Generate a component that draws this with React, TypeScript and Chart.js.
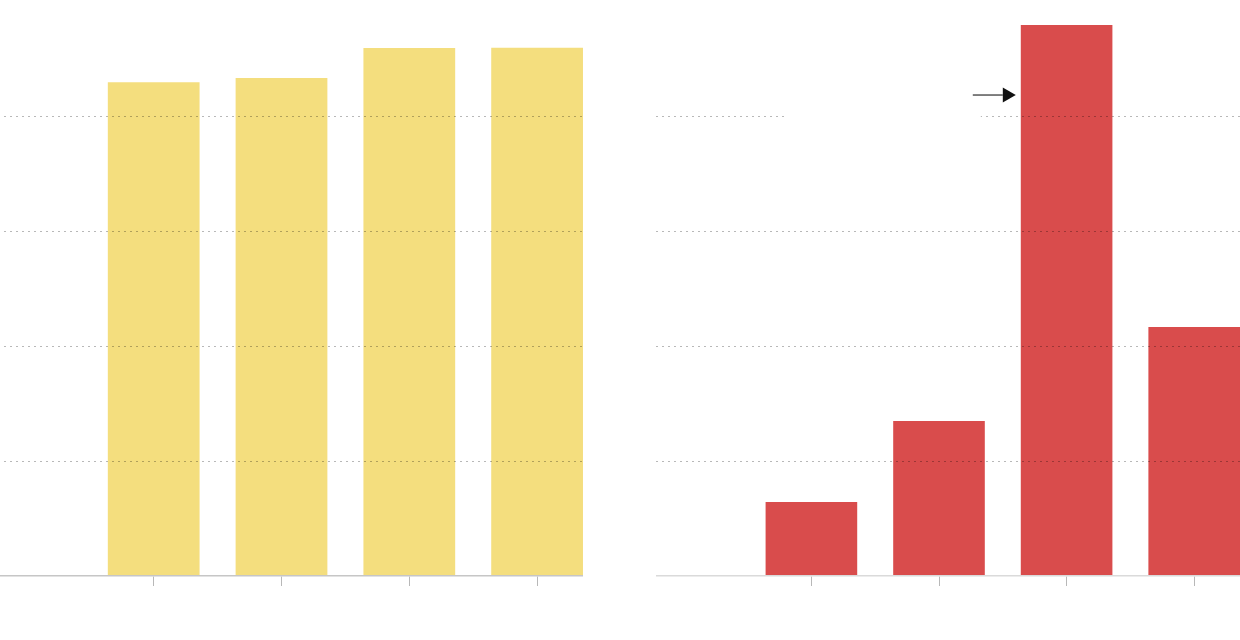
import React, { useEffect, useRef } from "react";
import { Chart, registerables } from "chart.js";

Chart.register(...registerables);

// Leading empty slot keeps the axis running past the first bar on the left.
const categories: string[] = ["", "1", "2", "3", "4"];
const leftValues: (number | null)[] = [null, 4.297, 4.334, 4.595, 4.597];
const rightValues: (number | null)[] = [null, 0.644, 1.349, 4.795, 2.167];
const yMax = 5;
const yStep = 1;
// Annotation arrow on the right panel
const arrowTargetIndex = 3;
const arrowValue = 4.186;

const CANVAS_H = 600;

function buildChart(
  canvas: HTMLCanvasElement,
  values: (number | null)[],
  color: string,
  axisColor: string,
  plugins: any[]
) {
  return new Chart(canvas, {
    type: "bar",
    data: {
      labels: categories,
      datasets: [
        {
          data: values as any,
          backgroundColor: color,
          borderWidth: 0,
          categoryPercentage: 1,
          barPercentage: 0.718,
        },
      ],
    },
    options: {
      responsive: false,
      animation: false,
      devicePixelRatio: 1,
      layout: { padding: { top: 1.5, left: 0, right: 0, bottom: 0 } },
      plugins: {
        legend: { display: false },
        tooltip: { enabled: false },
        title: { display: false },
      },
      scales: {
        x: {
          offset: true,
          ticks: { display: false },
          grid: {
            display: true,
            offset: false,
            drawOnChartArea: false,
            drawTicks: true,
            tickLength: 10,
            tickWidth: 1,
            tickColor: (ctx: any) => (ctx.index === 0 ? "rgba(0,0,0,0)" : "#b8b8b8"),
          },
          border: { display: true, color: axisColor, width: 1.5, z: 1 },
          afterFit: (scale: any) => {
            scale.height = 24;
          },
        },
        y: {
          min: 0,
          max: yMax,
          ticks: { display: false, stepSize: yStep },
          grid: {
            display: true,
            drawTicks: false,
            lineWidth: 1,
            z: 1,
            color: (ctx: any) => {
              const v = ctx.tick ? ctx.tick.value : 0;
              return v <= 0 || v >= yMax ? "rgba(0,0,0,0)" : "rgba(0,0,0,0.28)";
            },
          },
          border: { display: false, dash: [2, 4] },
          afterFit: (scale: any) => {
            scale.width = 0;
          },
        },
      },
    },
    plugins,
  } as any);
}

const arrowPlugin = {
  id: "arrowNote",
  afterDraw(chart: any) {
    const meta = chart.getDatasetMeta(0);
    const bar = meta.data[arrowTargetIndex];
    if (!bar) return;
    const yScale = chart.scales.y;
    const ctx = chart.ctx;
    const tipX = bar.x - bar.width / 2 - 5;
    const y = yScale.getPixelForValue(arrowValue);
    const gridY = yScale.getPixelForValue(4);
    ctx.save();
    // label backing (blank) that masks the gridline
    ctx.fillStyle = "#ffffff";
    ctx.fillRect(tipX - 231, gridY - 8, 196, 16);
    // arrow shaft
    ctx.strokeStyle = "#555555";
    ctx.lineWidth = 1.5;
    ctx.beginPath();
    ctx.moveTo(tipX - 43, y);
    ctx.lineTo(tipX - 13, y);
    ctx.stroke();
    // arrow head
    ctx.fillStyle = "#111111";
    ctx.beginPath();
    ctx.moveTo(tipX - 13, y - 7.5);
    ctx.lineTo(tipX, y);
    ctx.lineTo(tipX - 13, y + 7.5);
    ctx.closePath();
    ctx.fill();
    ctx.restore();
  },
};

export default function App() {
  const leftRef = useRef<HTMLCanvasElement | null>(null);
  const rightRef = useRef<HTMLCanvasElement | null>(null);

  useEffect(() => {
    document.body.style.margin = "0";
    const charts: Chart[] = [];
    if (leftRef.current) {
      charts.push(buildChart(leftRef.current, leftValues, "#F4DE7E", "#c6c6c6", []));
    }
    if (rightRef.current) {
      charts.push(buildChart(rightRef.current, rightValues, "#D94C4C", "#dadada", [arrowPlugin]));
    }
    return () => {
      charts.forEach((c) => c.destroy());
    };
  }, []);

  return (
    <div
      style={{
        position: "fixed",
        left: 0,
        top: 0,
        width: 1240,
        height: 640,
        background: "#ffffff",
        overflow: "hidden",
      }}
    >
      <div
        style={{
          position: "absolute",
          left: 0,
          top: 0,
          width: 583,
          height: 640,
          overflow: "hidden",
        }}
      >
        <canvas
          ref={leftRef}
          width={639}
          height={CANVAS_H}
          style={{ position: "absolute", left: -38, top: 0, width: 639, height: CANVAS_H }}
        />
      </div>
      <div
        style={{
          position: "absolute",
          left: 656,
          top: 0,
          width: 584,
          height: 640,
          overflow: "hidden",
        }}
      >
        <canvas
          ref={rightRef}
          width={638}
          height={CANVAS_H}
          style={{ position: "absolute", left: -36, top: 0, width: 638, height: CANVAS_H }}
        />
      </div>
    </div>
  );
}
